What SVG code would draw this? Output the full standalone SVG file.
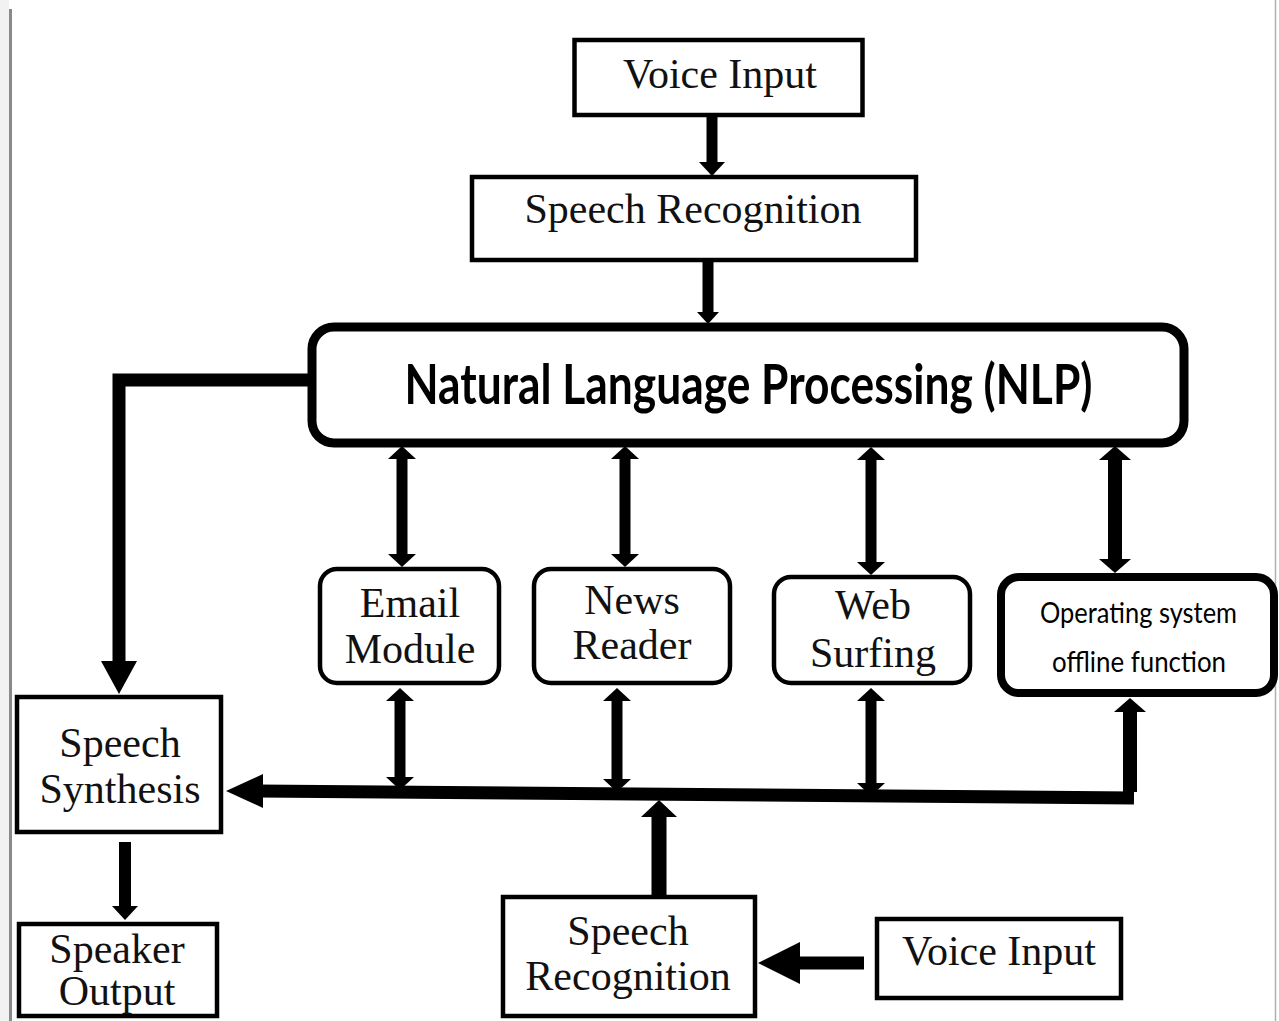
<svg xmlns="http://www.w3.org/2000/svg" width="1279" height="1021" viewBox="0 0 1279 1021">
  <style>
    .box { fill: #ffffff; stroke: #000000; stroke-width: 4.5; }
    .serif { font-family: "Liberation Serif", "Times New Roman", serif; font-size: 42px; fill: #111111; text-anchor: middle; }
    .sans { font-family: Lato, "Open Sans", "Liberation Sans", sans-serif; font-weight: bold; fill: #000000; text-anchor: middle; }
    .sans-r { font-family: Lato, "Open Sans", "Liberation Sans", sans-serif; font-weight: normal; fill: #000000; text-anchor: middle; }
    .shaft { fill: none; stroke: #000000; stroke-linecap: butt; stroke-linejoin: miter; }
    .head { fill: #000000; stroke: none; }
  </style>

  <!-- page background and border rules -->
  <rect x="0" y="0" width="1279" height="1021" fill="#ffffff"/>
  <rect x="0" y="0" width="9" height="1021" fill="#f2f2f2"/>
  <line x1="10.5" y1="9" x2="10.5" y2="1021" stroke="#8a8a8a" stroke-width="3"/>
  <line x1="1275.5" y1="0" x2="1275.5" y2="1021" stroke="#b0b0b0" stroke-width="1.5"/>

  <g id="connectors">
    <!-- Voice Input -> Speech Recognition (top) -->
    <line class="shaft" x1="712" y1="117" x2="712" y2="165" stroke-width="11"/>
    <polygon class="head" points="712,176 699,162 725,162"/>
    <!-- Speech Recognition -> NLP -->
    <line class="shaft" x1="708" y1="262" x2="708" y2="315" stroke-width="11"/>
    <polygon class="head" points="708,324 697,312 719,312"/>

    <!-- NLP -> Speech Synthesis feedback -->
    <path class="shaft" d="M 309 380 H 119 V 664" stroke-width="13"/>
    <polygon class="head" points="119,694 101,661 137,661"/>

    <!-- NLP <-> modules -->
    <line class="shaft" x1="402" y1="455" x2="402" y2="558" stroke-width="11"/>
    <polygon class="head" points="402,446 388,459 416,459"/>
    <polygon class="head" points="402,567 388,554 416,554"/>

    <line class="shaft" x1="625" y1="455" x2="625" y2="558" stroke-width="11"/>
    <polygon class="head" points="625,446 611,459 639,459"/>
    <polygon class="head" points="625,567 611,554 639,554"/>

    <line class="shaft" x1="871" y1="456" x2="871" y2="566" stroke-width="11"/>
    <polygon class="head" points="871,447 857,460 885,460"/>
    <polygon class="head" points="871,575 857,562 885,562"/>

    <line class="shaft" x1="1115" y1="456" x2="1115" y2="564" stroke-width="14"/>
    <polygon class="head" points="1115,446 1099,460 1131,460"/>
    <polygon class="head" points="1115,573 1099,559 1131,559"/>

    <!-- modules <-> bus -->
    <line class="shaft" x1="400" y1="697" x2="400" y2="781" stroke-width="11"/>
    <polygon class="head" points="400,688 386,701 414,701"/>
    <polygon class="head" points="400,790 386,777 414,777"/>

    <line class="shaft" x1="617" y1="697" x2="617" y2="783" stroke-width="11"/>
    <polygon class="head" points="617,688 603,701 631,701"/>
    <polygon class="head" points="617,792 603,779 631,779"/>

    <line class="shaft" x1="871" y1="697" x2="871" y2="787" stroke-width="11"/>
    <polygon class="head" points="871,688 857,701 885,701"/>
    <polygon class="head" points="871,796 857,783 885,783"/>

    <line class="shaft" x1="1130" y1="709" x2="1130" y2="792" stroke-width="14"/>
    <polygon class="head" points="1130,698 1114,712 1146,712"/>

    <!-- common bus into Speech Synthesis -->
    <line class="shaft" x1="258" y1="791" x2="1134" y2="798" stroke-width="13"/>
    <polygon class="head" points="226,791 263,774 263,808"/>

    <!-- Speech Synthesis -> Speaker Output -->
    <line class="shaft" x1="125" y1="842" x2="125" y2="908" stroke-width="12"/>
    <polygon class="head" points="125,920 112,906 138,906"/>

    <!-- Speech Recognition (bottom) -> bus -->
    <line class="shaft" x1="659" y1="895" x2="659" y2="814" stroke-width="15"/>
    <polygon class="head" points="659,800 641,817 677,817"/>

    <!-- Voice Input (bottom) -> Speech Recognition (bottom) -->
    <line class="shaft" x1="864" y1="963" x2="798" y2="963" stroke-width="13"/>
    <polygon class="head" points="758,963 800,942 800,984"/>
  </g>

  <g id="voice-input-top">
    <rect class="box" x="574.5" y="40" width="288" height="75"/>
    <text class="serif" x="720" y="88" font-size="41">Voice Input</text>
  </g>

  <g id="speech-recognition-top">
    <rect class="box" x="472" y="177" width="444" height="83"/>
    <text class="serif" x="693" y="223">Speech Recognition</text>
  </g>

  <g id="nlp">
    <rect x="312" y="327" width="872" height="116" rx="22" ry="22" fill="#ffffff" stroke="#000000" stroke-width="9"/>
    <text class="sans" x="748.5" y="404" font-size="56" textLength="688" lengthAdjust="spacingAndGlyphs">Natural Language Processing (NLP)</text>
  </g>

  <g id="email-module">
    <rect class="box" x="320" y="569" width="179" height="114" rx="17" ry="17"/>
    <text class="serif" x="410" y="617">Email</text>
    <text class="serif" x="410" y="663">Module</text>
  </g>

  <g id="news-reader">
    <rect class="box" x="534" y="569" width="196" height="114" rx="17" ry="17"/>
    <text class="serif" x="632" y="614">News</text>
    <text class="serif" x="632" y="659">Reader</text>
  </g>

  <g id="web-surfing">
    <rect class="box" x="774" y="577" width="196" height="106" rx="17" ry="17"/>
    <text class="serif" x="873" y="619">Web</text>
    <text class="serif" x="873" y="667">Surfing</text>
  </g>

  <g id="os-offline">
    <rect x="1001" y="577" width="273" height="116" rx="18" ry="18" fill="#ffffff" stroke="#000000" stroke-width="8"/>
    <text class="sans-r" x="1138.5" y="623" font-size="29" textLength="197" lengthAdjust="spacingAndGlyphs">Operating system</text>
    <text class="sans-r" x="1139" y="672" font-size="29" textLength="174" lengthAdjust="spacingAndGlyphs">offline function</text>
  </g>

  <g id="speech-synthesis">
    <rect class="box" x="17" y="697" width="204" height="135"/>
    <text class="serif" x="120" y="757">Speech</text>
    <text class="serif" x="120" y="803">Synthesis</text>
  </g>

  <g id="speaker-output">
    <rect class="box" x="19" y="924" width="198" height="92"/>
    <text class="serif" x="117" y="963">Speaker</text>
    <text class="serif" x="117" y="1005">Output</text>
  </g>

  <g id="speech-recognition-bottom">
    <rect class="box" x="503" y="897" width="252" height="119"/>
    <text class="serif" x="628" y="945">Speech</text>
    <text class="serif" x="628" y="990">Recognition</text>
  </g>

  <g id="voice-input-bottom">
    <rect class="box" x="877" y="919" width="244" height="79"/>
    <text class="serif" x="999" y="965" font-size="41">Voice Input</text>
  </g>
</svg>
